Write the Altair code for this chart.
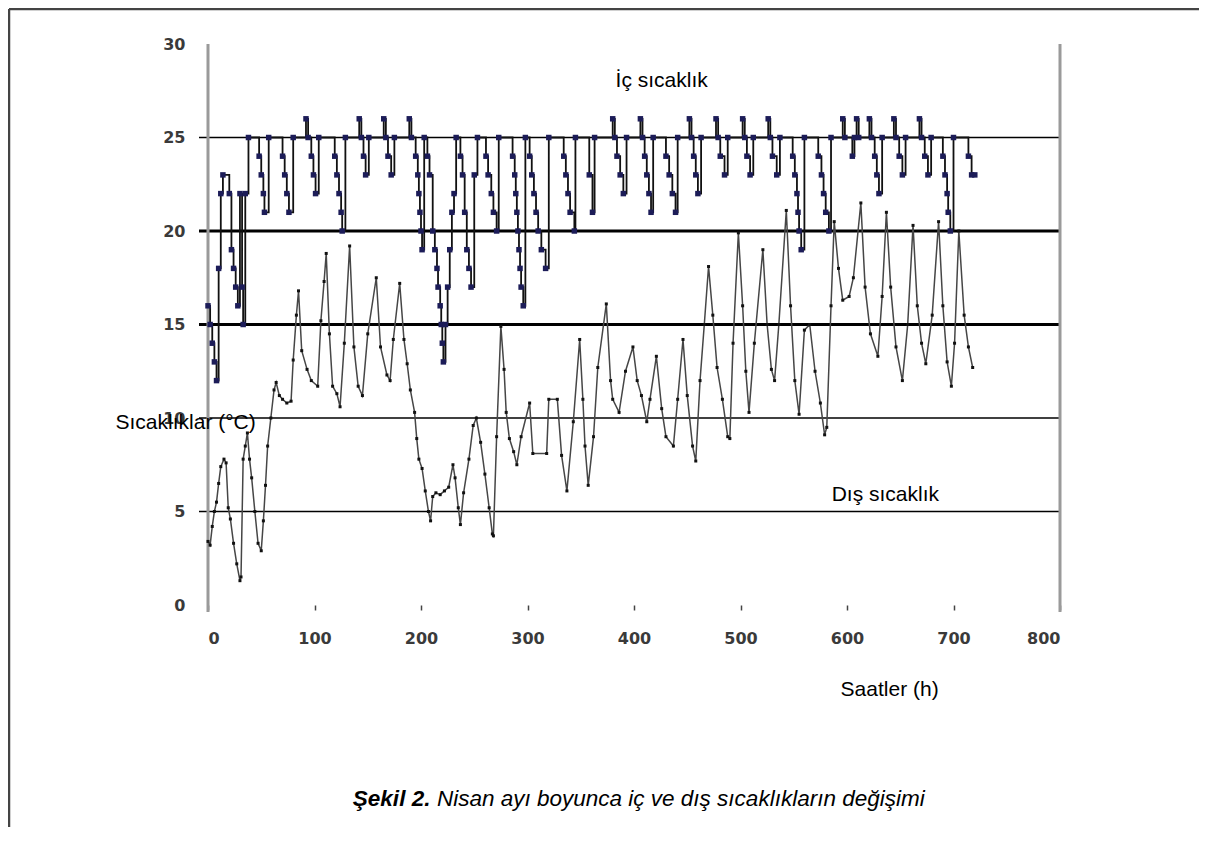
import altair as alt
import pandas as pd

# İç sıcaklık (saat, °C) - değişim noktaları
ic_sicaklik = [
    (0, 16), (2, 15), (4, 14), (6, 13), (8, 12), (10, 18), (12, 22), (14, 23), (20, 22), (22, 19),
    (24, 18), (26, 17), (28, 16), (30, 22), (32, 17), (33, 15), (35, 22), (38, 25), (48, 24), (50, 23),
    (52, 22), (53, 21), (57, 25), (70, 24), (72, 23), (74, 22), (76, 21), (80, 25), (92, 26), (94, 25),
    (97, 24), (99, 23), (101, 22), (104, 25), (119, 24), (121, 23), (123, 22), (125, 21), (126, 20), (129, 25),
    (142, 26), (144, 25), (146, 24), (148, 23), (151, 25), (165, 26), (167, 25), (169, 24), (172, 23), (175, 25),
    (189, 26), (191, 25), (195, 24), (197, 23), (198, 22), (199, 21), (200, 20), (201, 19), (203, 25), (206, 24),
    (208, 23), (211, 20), (213, 19), (215, 18), (216, 17), (218, 16), (219, 15), (220, 14), (221, 13), (223, 15),
    (225, 17), (227, 19), (229, 21), (231, 22), (233, 25), (237, 24), (239, 23), (241, 21), (243, 19), (245, 18),
    (247, 17), (250, 23), (253, 25), (261, 24), (263, 23), (266, 22), (268, 21), (271, 20), (273, 25), (286, 24),
    (288, 23), (289, 22), (290, 21), (291, 20), (292, 19), (293, 18), (294, 17), (296, 16), (298, 25), (302, 24),
    (304, 23), (306, 22), (308, 21), (310, 20), (313, 19), (317, 18), (320, 25), (334, 24), (336, 23), (338, 22),
    (340, 21), (344, 20), (345, 25), (358, 23), (361, 21), (363, 25), (380, 26), (382, 25), (384, 24), (387, 23),
    (390, 22), (393, 25), (406, 26), (408, 25), (410, 24), (412, 23), (414, 22), (416, 21), (418, 25), (430, 24),
    (433, 23), (436, 22), (439, 21), (441, 25), (452, 26), (454, 25), (456, 24), (458, 23), (460, 22), (463, 25),
    (477, 26), (479, 25), (481, 24), (485, 23), (488, 25), (502, 26), (504, 25), (506, 24), (509, 23), (512, 25),
    (526, 26), (528, 25), (530, 24), (534, 23), (537, 25), (549, 24), (551, 23), (553, 22), (554, 21), (555, 20),
    (557, 19), (560, 25), (573, 24), (576, 23), (578, 22), (580, 21), (583, 20), (585, 25), (596, 26), (598, 25),
    (605, 24), (607, 25), (609, 26), (611, 25), (621, 26), (623, 25), (626, 24), (628, 23), (630, 22), (633, 25),
    (644, 26), (646, 25), (649, 24), (652, 23), (655, 25), (668, 26), (670, 25), (673, 24), (676, 23), (679, 25),
    (690, 24), (692, 23), (694, 22), (695, 21), (697, 20), (700, 25), (714, 24), (717, 23), (720, 23),
]

# Dış sıcaklık (saat, °C)
dis_sicaklik = [
    (0, 3.4), (2, 3.2), (4, 4.2), (6, 5.0), (8, 5.5), (10, 6.5), (12, 7.4), (15, 7.8), (17, 7.6), (19, 5.2),
    (21, 4.6), (24, 3.3), (27, 2.2), (30, 1.3), (31, 1.5), (33, 7.8), (35, 8.5), (37, 9.2), (39, 7.8), (41, 6.8),
    (44, 5.0), (47, 3.3), (50, 2.9), (52, 4.5), (54, 6.4), (56, 8.5), (59, 10.0), (62, 11.5), (64, 11.9), (67, 11.2),
    (70, 11.0), (74, 10.8), (78, 10.9), (80, 13.1), (83, 15.5), (85, 16.8), (88, 13.6), (93, 12.6), (97, 12.0), (103, 11.7),
    (106, 15.2), (109, 17.3), (111, 18.8), (114, 14.5), (117, 11.7), (121, 11.3), (124, 10.6), (128, 14.0), (133, 19.2), (137, 13.8),
    (141, 11.7), (145, 11.2), (150, 14.5), (158, 17.5), (162, 13.8), (168, 12.3), (171, 12.0), (174, 14.2), (180, 17.2), (184, 14.2),
    (187, 12.9), (190, 11.5), (194, 10.3), (196, 8.9), (198, 7.8), (201, 7.3), (204, 6.1), (207, 5.0), (209, 4.5), (211, 5.8),
    (214, 6.0), (218, 5.9), (222, 6.1), (226, 6.3), (230, 7.5), (232, 6.8), (235, 5.2), (237, 4.3), (240, 6.0), (245, 7.8),
    (249, 9.6), (252, 10.0), (256, 8.7), (260, 7.0), (264, 5.2), (267, 3.8), (268, 3.7), (271, 9.0), (275, 14.9), (278, 12.6),
    (280, 10.3), (283, 8.9), (287, 8.2), (290, 7.5), (294, 9.0), (302, 10.8), (305, 8.1), (318, 8.1), (320, 11.0), (328, 11.0),
    (332, 8.0), (337, 6.1), (343, 9.8), (349, 14.2), (352, 11.0), (354, 8.5), (357, 6.4), (362, 9.0), (366, 12.7), (374, 16.1),
    (378, 12.0), (380, 11.0), (386, 10.3), (392, 12.5), (399, 13.8), (403, 12.0), (407, 11.2), (412, 9.8), (415, 11.0), (421, 13.3),
    (426, 10.5), (430, 9.0), (437, 8.5), (441, 11.0), (446, 14.2), (450, 11.2), (455, 8.5), (458, 7.7), (462, 12.0), (466, 15.0),
    (470, 18.1), (474, 15.5), (478, 12.7), (483, 11.0), (488, 9.0), (490, 8.9), (493, 14.0), (498, 19.9), (502, 16.0), (505, 12.5),
    (508, 10.3), (513, 14.0), (521, 19.0), (525, 15.0), (529, 12.6), (532, 12.0), (536, 15.0), (543, 21.1), (547, 16.0), (551, 12.0),
    (555, 10.2), (560, 14.7), (565, 15.0), (570, 12.5), (575, 10.8), (579, 9.1), (581, 9.5), (585, 16.0), (588, 20.5), (592, 18.0),
    (596, 16.3), (602, 16.5), (606, 17.5), (613, 21.5), (617, 17.0), (622, 14.5), (629, 13.3), (633, 16.5), (637, 21.0), (641, 17.0),
    (646, 13.8), (652, 12.0), (657, 15.0), (662, 20.3), (666, 16.0), (670, 14.0), (674, 12.9), (680, 15.5), (686, 20.5), (690, 16.0),
    (694, 13.0), (698, 11.7), (701, 14.0), (705, 20.0), (710, 15.5), (714, 13.8), (718, 12.7),
]

grid_deger = [5, 10, 15, 20, 25]
grid_kalinlik = [1.5, 1.5, 3, 3, 1.5]
x_etiketler = [0, 100, 200, 300, 400, 500, 600, 700, 800]
y_etiketler = [0, 5, 10, 15, 20, 25, 30]
dikey_cizgiler = [0, 800]

# metinler: (saat, °C, metin)
etiket_metinleri = [
    (426, 28.0, "İç sıcaklık"),
    (636, 5.9, "Dış sıcaklık"),
    (-21, 9.75, "Sıcaklıklar (°C)"),
    (640, -4.55, "Saatler (h)"),
]
baslik_kalin = "Şekil 2."
baslik_metin = "Nisan ayı boyunca iç ve dış sıcaklıkların değişimi"

W, H = 852, 561
FONT = "Liberation Sans"

ic_df = pd.DataFrame(ic_sicaklik, columns=["saat", "deger"])
dis_df = pd.DataFrame(dis_sicaklik, columns=["saat", "deger"])
grid_df = pd.DataFrame({"deger": grid_deger, "kalinlik": grid_kalinlik})
dikey_df = pd.DataFrame({"saat": dikey_cizgiler})
etiket_df = pd.DataFrame(etiket_metinleri, columns=["saat", "deger", "metin"])

xs = alt.Scale(domain=[0, 800], nice=False, zero=False)
ys = alt.Scale(domain=[0, 30], nice=False, zero=False)

x_axis = alt.Axis(values=x_etiketler, title=None, grid=False, domain=False, ticks=True,
                  tickSize=5, tickColor="#444444", tickWidth=1.5, labelPadding=20,
                  labelFont="DejaVu Sans", labelFontWeight="bold", labelFontSize=16,
                  labelColor="#3a3a3a")
y_axis = alt.Axis(values=y_etiketler, title=None, grid=False, domain=False, ticks=False,
                  labelPadding=23, labelFont="DejaVu Sans", labelFontWeight="bold",
                  labelFontSize=16, labelColor="#3a3a3a")

grid = alt.Chart(grid_df).mark_rule(color="black").encode(
    y=alt.Y("deger:Q", scale=ys, axis=y_axis),
    x=alt.value(-9), x2=alt.value(W),
    strokeWidth=alt.StrokeWidth("kalinlik:Q", scale=None, legend=None),
)

dikey = alt.Chart(dikey_df).mark_rule(color="#9a9a9a", strokeWidth=3).encode(
    x=alt.X("saat:Q", scale=xs, axis=x_axis),
    y=alt.value(0), y2=alt.value(H + 7),
)

dis_line = alt.Chart(dis_df).mark_line(color="#464646", strokeWidth=1.5).encode(
    x=alt.X("saat:Q", scale=xs), y=alt.Y("deger:Q", scale=ys))
dis_pts = alt.Chart(dis_df).mark_point(filled=True, shape="square", size=9, color="#111111", opacity=1).encode(
    x=alt.X("saat:Q", scale=xs), y=alt.Y("deger:Q", scale=ys))

ic_line = alt.Chart(ic_df).mark_line(color="#111111", strokeWidth=1.8, interpolate="step-after").encode(
    x=alt.X("saat:Q", scale=xs), y=alt.Y("deger:Q", scale=ys))
ic_pts = alt.Chart(ic_df).mark_point(filled=True, shape="square", size=30, color="#1c1c58", opacity=1).encode(
    x=alt.X("saat:Q", scale=xs), y=alt.Y("deger:Q", scale=ys))

etiketler = alt.Chart(etiket_df).mark_text(font=FONT, fontSize=21, color="black", align="center",
                                           baseline="middle").encode(
    x=alt.X("saat:Q", scale=xs), y=alt.Y("deger:Q", scale=ys), text="metin:N")

baslik1 = alt.Chart(pd.DataFrame({"saat": [136], "deger": [-10.4], "metin": [baslik_kalin]})).mark_text(
    font=FONT, fontSize=22.5, fontStyle="italic", fontWeight="bold", align="left", baseline="middle", color="black"
).encode(x=alt.X("saat:Q", scale=xs), y=alt.Y("deger:Q", scale=ys), text="metin:N")
baslik2 = alt.Chart(pd.DataFrame({"saat": [215], "deger": [-10.4], "metin": [baslik_metin]})).mark_text(
    font=FONT, fontSize=22.5, fontStyle="italic", align="left", baseline="middle", color="black"
).encode(x=alt.X("saat:Q", scale=xs), y=alt.Y("deger:Q", scale=ys), text="metin:N")

kenar_ust = alt.Chart(pd.DataFrame({"k": [0]})).mark_rule(color="#444444", strokeWidth=2.5).encode(
    x=alt.value(-199), x2=alt.value(992), y=alt.value(-35))
kenar_sol = alt.Chart(pd.DataFrame({"k": [0]})).mark_rule(color="#444444", strokeWidth=2.5).encode(
    x=alt.value(-199), y=alt.value(-35), y2=alt.value(800))

chart = alt.layer(
    grid, dikey, dis_line, dis_pts, ic_line, ic_pts, etiketler, baslik1, baslik2, kenar_ust, kenar_sol
).properties(
    width=W, height=H,
    autosize=alt.AutoSizeParams(type="none"),
    padding={"left": 200, "top": 36, "right": 139, "bottom": 222},
    background="white",
).configure_view(stroke=None)

chart.save("out.html", embed_options={"renderer": "svg", "actions": False})
